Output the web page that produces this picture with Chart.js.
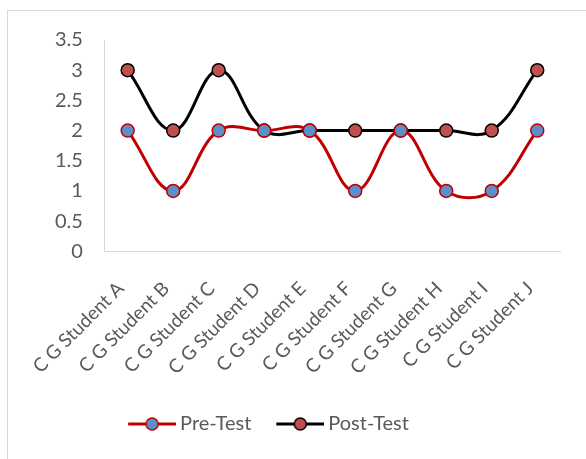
<!DOCTYPE html>
<html>
<head>
<meta charset="utf-8">
<script src="https://cdn.jsdelivr.net/npm/chart.js@4"></script>
<style>
  body { margin: 0; background: #fff; }
  #frame { position: absolute; left: 7px; top: 10px; width: 700px; height: 600px; border: 1px solid #d9d9d9; }
  #wrap { position: absolute; left: 0; top: 0; width: 586px; height: 459px; }
</style>
</head>
<body>
<div id="frame"></div>
<div id="wrap"><canvas id="chart"></canvas></div>
<script>
// chart data
const students = ['C G Student A', 'C G Student B', 'C G Student C', 'C G Student D', 'C G Student E',
                  'C G Student F', 'C G Student G', 'C G Student H', 'C G Student I', 'C G Student J'];
const preTest = [2, 1, 2, 2, 2, 1, 2, 1, 1, 2];
const postTest = [3, 2, 3, 2, 2, 2, 2, 2, 2, 3];

const fontFamily = 'Lato, "Open Sans", sans-serif';
const textColor = '#595959';

// line+circle symbol for the legend, like Excel.
// drawn on the right of a wider image so the gaps match the original
function legendSymbol(lineColor, fillColor, borderColor) {
    const c = document.createElement('canvas');
    c.width = 70;
    c.height = 16;
    const ctx = c.getContext('2d');
    const x0 = 22;
    ctx.strokeStyle = lineColor;
    ctx.lineWidth = 3;
    ctx.beginPath();
    ctx.moveTo(x0, 8);
    ctx.lineTo(x0 + 48, 8);
    ctx.stroke();
    ctx.beginPath();
    ctx.arc(x0 + 24, 8, 6, 0, Math.PI * 2);
    ctx.fillStyle = fillColor;
    ctx.fill();
    ctx.lineWidth = 1.5;
    ctx.strokeStyle = borderColor;
    ctx.stroke();
    return c;
}

const symbols = [
    legendSymbol('#c00000', '#5b8fcb', '#c00000'),
    legendSymbol('#000000', '#c0504d', '#000000')
];

// Excel centres the legend on the whole frame, nudge it left a bit
const legendShift = {
    id: 'legendShift',
    afterLayout(chart) {
        chart.legend.left -= 36;
        chart.legend.right -= 36;
    }
};

new Chart(document.getElementById('chart'), {
    type: 'line',
    data: {
        labels: students,
        datasets: [{
            label: 'Pre-Test',
            data: preTest,
            borderColor: '#c00000',
            borderWidth: 3,
            pointBackgroundColor: '#5b8fcb',
            pointBorderColor: '#c00000',
            pointBorderWidth: 1.5,
            pointRadius: 6.5,
            tension: 0.4
        }, {
            label: 'Post-Test',
            data: postTest,
            borderColor: '#000000',
            borderWidth: 3,
            pointBackgroundColor: '#c0504d',
            pointBorderColor: '#000000',
            pointBorderWidth: 1.5,
            pointRadius: 6.5,
            tension: 0.4
        }]
    },
    options: {
        responsive: true,
        maintainAspectRatio: false,
        animation: false,
        layout: { padding: { left: 33, right: 26, top: 40, bottom: 15 } },
        plugins: {
            tooltip: { enabled: false },
            legend: {
                position: 'bottom',
                labels: {
                    usePointStyle: true,
                    pointStyleWidth: 58,
                    padding: 9,
                    color: textColor,
                    font: { family: fontFamily, size: 20 },
                    generateLabels: chart => {
                        const items = Chart.defaults.plugins.legend.labels.generateLabels(chart);
                        items.forEach((item, i) => { item.pointStyle = symbols[i]; });
                        return items;
                    }
                }
            }
        },
        scales: {
            x: {
                offset: true,
                grid: { display: false, drawTicks: false },
                border: { color: '#d9d9d9', width: 1 },
                ticks: {
                    minRotation: 45,
                    maxRotation: 45,
                    autoSkip: false,
                    padding: 26,
                    labelOffset: -7,
                    color: textColor,
                    font: { family: fontFamily, size: 19 }
                }
            },
            y: {
                min: 0,
                max: 3.5,
                grid: { display: false, drawTicks: false },
                border: { color: '#d9d9d9', width: 1 },
                ticks: {
                    stepSize: 0.5,
                    padding: 22,
                    color: textColor,
                    font: { family: fontFamily, size: 20 },
                    callback: v => String(v)
                }
            }
        }
    },
    plugins: [legendShift]
});
</script>
</body>
</html>
